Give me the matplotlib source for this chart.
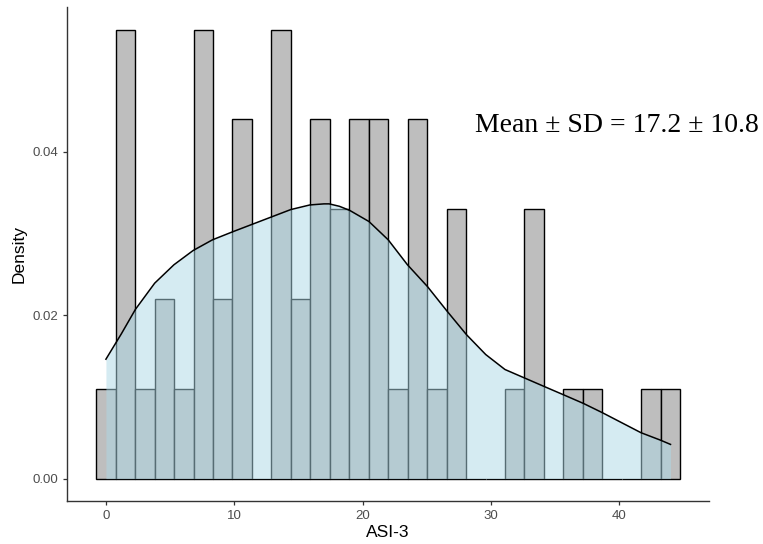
import numpy as np
import matplotlib
matplotlib.use("Agg")
import matplotlib.pyplot as plt

# histogram: 30 bins of equal width over 0..44 (bin centres at k * width)
BIN_START = 0.0
BIN_END = 44.0
counts = [1, 5, 1, 2, 1, 5, 2, 4, 0, 5, 2, 4, 3, 4, 4,
          1, 4, 1, 3, 0, 0, 1, 3, 0, 1, 1, 0, 0, 1, 1]
N = 60

# density curve
dens_x = [0.0, 1.2, 2.3, 3.8, 5.3, 6.8, 8.3, 9.9, 11.4, 12.9, 14.4, 15.9,
          17.0, 17.4, 18.2, 19.0, 20.5, 22.0, 23.5, 25.05, 26.6, 28.1, 29.6,
          31.1, 32.6, 34.1, 35.6, 37.2, 38.7, 40.2, 41.7, 43.2, 44.0]
dens_y = [0.0146, 0.0177, 0.0207, 0.0239, 0.02615, 0.0279, 0.0292, 0.0302,
          0.0311, 0.0320, 0.0329, 0.03347, 0.0336, 0.0336, 0.0333, 0.0328,
          0.03144, 0.0292, 0.02615, 0.0235, 0.02045, 0.0176, 0.01517,
          0.01334, 0.01232, 0.0113, 0.01029, 0.0092, 0.00805, 0.00683,
          0.00561, 0.00471, 0.00418]

x_ticks = [0, 10, 20, 30, 40]
y_ticks = [0.00, 0.02, 0.04]
label = "Mean \u00b1 SD = 17.2 \u00b1 10.8"

AX_COL = "#333333"
TXT_COL = "#4d4d4d"

plt.rcParams["font.family"] = ["Liberation Sans", "DejaVu Sans"]

fig = plt.figure(figsize=(7.63, 5.44), dpi=100)
ax = fig.add_axes([0.0878, 0.079, 0.842, 0.908])

nb = len(counts)
width = (BIN_END - BIN_START) / (nb - 1)
centers = BIN_START + width * np.arange(nb)
heights = np.array(counts) / (N * width)
ax.bar(centers, heights, width=width, color="#bebebe", edgecolor="black",
       linewidth=1.0, zorder=2)

ax.fill_between(dens_x, 0, dens_y, color="#add8e6", alpha=0.5, linewidth=0,
                zorder=3)
ax.plot(dens_x, dens_y, color="black", linewidth=1.1, zorder=4,
        solid_joinstyle="round")

ax.text(39.8, 0.0432, label, ha="center", va="center", fontsize=20,
        family=["Liberation Serif", "DejaVu Serif"], color="black", zorder=5)

lo = centers[0] - width / 2
hi = centers[-1] + width / 2
pad = 0.05 * (hi - lo)
ax.set_xlim(lo - pad, hi + pad)
ymax = heights.max()
ax.set_ylim(-0.05 * ymax, 1.05 * ymax)

ax.set_xticks(x_ticks)
ax.set_yticks(y_ticks)
ax.set_yticklabels([f"{v:.2f}" for v in y_ticks])
ax.tick_params(colors=AX_COL, labelcolor=TXT_COL, labelsize=9.5, length=3,
               width=0.9)
for s in ["top", "right"]:
    ax.spines[s].set_visible(False)
for s in ["left", "bottom"]:
    ax.spines[s].set_color(AX_COL)
    ax.spines[s].set_linewidth(1.0)

ax.set_xlabel("ASI-3", fontsize=12.5, color="black", labelpad=2)
ax.set_ylabel("Density", fontsize=12.5, color="black", labelpad=4)

fig.savefig("out.png", dpi=100, facecolor="white")
